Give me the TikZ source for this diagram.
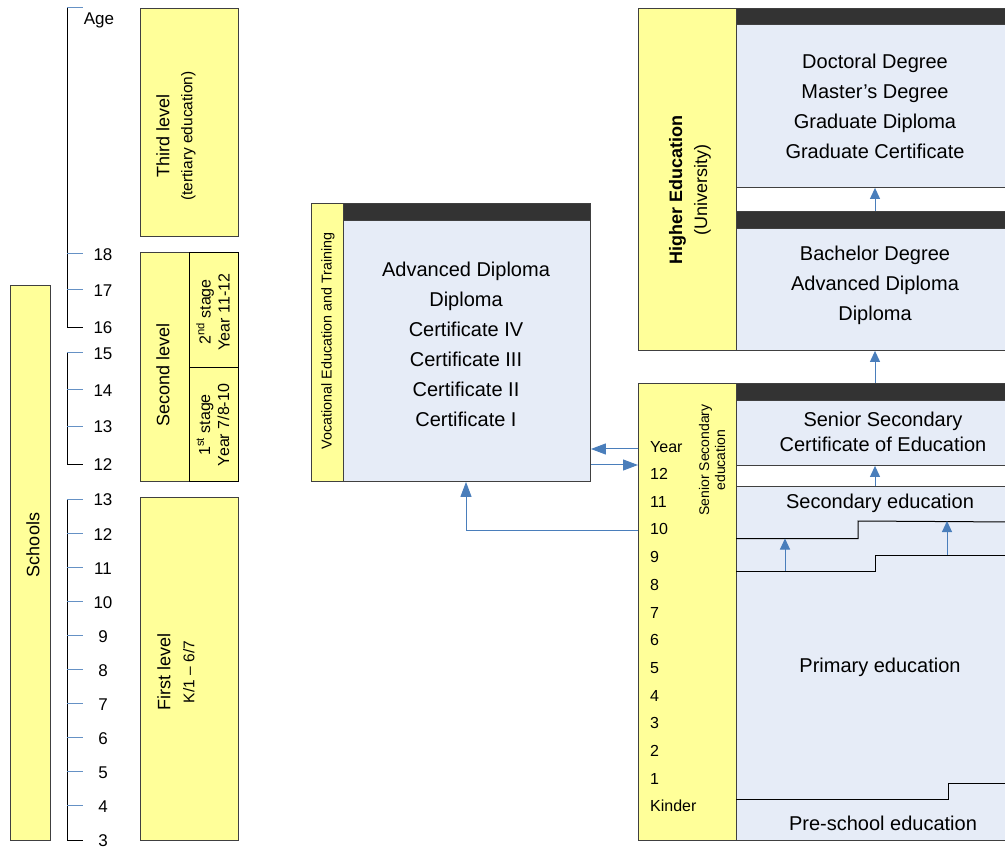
\documentclass[tikz,border=0pt]{standalone}
\usepackage{fontspec}
\setmainfont{Liberation Sans}
\usetikzlibrary{positioning}
\usetikzlibrary{calc}
\usetikzlibrary{arrows.meta}

\definecolor{levelyellow}{HTML}{FFFF99}
\definecolor{awardblue}{HTML}{E6ECF7}
\definecolor{headgrey}{HTML}{333333}
\definecolor{edgegrey}{HTML}{404040}
\definecolor{pathblue}{HTML}{4A7EBB}

\begin{document}
\begin{tikzpicture}[
  x=1pt,y=-1pt,
  level/.style={draw=edgegrey,fill=levelyellow,line width=0.9pt,inner sep=0pt,anchor=north west},
  award/.style={draw=edgegrey,fill=awardblue,line width=0.9pt,inner sep=0pt,anchor=north west},
  header/.style={draw=edgegrey,fill=headgrey,line width=0.9pt,inner sep=0pt,anchor=north west},
  levellbl/.style={rotate=90,align=center,font=\fontsize{18}{27}\selectfont},
  stagelbl/.style={rotate=90,align=center,font=\fontsize{16}{19}\selectfont},
  awardlbl/.style={align=center,font=\fontsize{20}{30}\selectfont},
  agelbl/.style={font=\fontsize{17}{20}\selectfont},
  yearlbl/.style={anchor=west,inner sep=0pt,font=\fontsize{16}{19}\selectfont},
  ruler/.style={draw=black,line width=0.9pt},
  agetick/.style={draw=pathblue!85,line width=1pt},
  stepline/.style={draw=black,line width=1pt},
  flow/.style={draw=pathblue,line width=1pt,-{Triangle[length=11pt,width=10pt]}},
  sideflow/.style={flow,-{Triangle[length=15pt,width=11pt]}}
  ]
  \useasboundingbox (0,0) rectangle (1005,850);
  \clip (0,0) rectangle (1005,850);

  % age ruler
  \draw[ruler] (67,8) -- (67,327) -- (83,327);
  \draw[ruler] (67,353) -- (67,464) -- (83,464);
  \draw[ruler] (67,499) -- (67,840) -- (83,840);
  \foreach \y in {8,254,290,353,390,427} \draw[agetick] (67,\y) -- (83,\y);
  \foreach \i in {0,...,9} \draw[agetick] (67,499+\i*34.1) -- (83,499+\i*34.1);
  \node (agetitle) [agelbl] at (99,20) {Age};
  \foreach \a/\y in {18/255,17/291,16/328}
    \node (upper\a) [agelbl] at (103,\y) {\a};
  \foreach \a/\y in {15/354,14/391,13/427,12/465}
    \node (middle\a) [agelbl] at (103,\y) {\a};
  \foreach \i in {0,...,10}
    \node (lower\i) [agelbl] at (103,500+\i*34.1) {\pgfmathparse{int(13-\i)}\pgfmathresult};

  % levels
  \node (schools) [level,minimum width=40pt,minimum height=555pt] at (10,285) {};
  \node (schoolslbl) [levellbl] at (33,545) {Schools};
  \node (third) [level,minimum width=98pt,minimum height=228pt] at (140,8) {};
  \node (thirdlbl) [levellbl] at (176,136) {Third level\\[-4pt]{\fontsize{15.5}{18}\selectfont(tertiary education)}};
  \node (second) [level,minimum width=98pt,minimum height=229pt] at (140,252) {};
  \node (secondlbl) [levellbl] at (163,375) {Second level};
  \node (stagetwo) [level,draw=black,minimum width=49pt,minimum height=115pt] at (189,252) {};
  \node (stagetwolbl) [stagelbl] at (213,312) {2\textsuperscript{nd} stage\\Year 11-12};
  \node (stageone) [level,draw=black,minimum width=49pt,minimum height=114pt] at (189,367) {};
  \node (stageonelbl) [stagelbl] at (213,425) {1\textsuperscript{st} stage\\Year 7/8-10};
  \node (first) [level,minimum width=98pt,minimum height=343pt] at (140,497) {};
  \node (firstlbl) [levellbl] at (176,672) {First level\\[-3pt]{\fontsize{15.5}{18}\selectfont K/1 -- 6/7}};

  % vocational education
  \node (vocational) [level,minimum width=32pt,minimum height=278pt] at (311,203) {};
  \node (vocationallbl) [rotate=90,font=\fontsize{14.3}{17}\selectfont] at (328,341) {Vocational Education and Training};
  \node (vochead) [header,minimum width=247pt,minimum height=17pt] at (343,203) {};
  \node (vocbody) [award,minimum width=247pt,minimum height=261pt] at (343,220) {};
  \node (vocawards) [awardlbl] at (466,344.5) {Advanced Diploma\\Diploma\\Certificate IV\\Certificate III\\Certificate II\\Certificate I};

  % higher education
  \node (higher) [level,minimum width=98pt,minimum height=342pt] at (638,8) {};
  \node (higherlbl) [rotate=90,align=center,font=\fontsize{18}{25}\selectfont] at (690,190) {\textbf{Higher Education}\\(University)};
  \node (pghead) [header,minimum width=276pt,minimum height=16pt] at (736,8) {};
  \node (pgbody) [award,minimum width=276pt,minimum height=163pt] at (736,24) {};
  \node (pgawards) [awardlbl] at (875,106.5) {Doctoral Degree\\Master's Degree\\Graduate Diploma\\Graduate Certificate};
  \node (ughead) [header,minimum width=276pt,minimum height=17pt] at (736,211) {};
  \node (ugbody) [award,minimum width=276pt,minimum height=122pt] at (736,228) {};
  \node (ugawards) [awardlbl] at (875,285.5) {Bachelor Degree\\Advanced Diploma\\Diploma};

  % schools
  \node (senior) [level,minimum width=98pt,minimum height=457pt] at (638,383) {};
  \node (seniorlbl) [rotate=90,align=center,font=\fontsize{14}{16}\selectfont] at (712,460) {Senior Secondary\\education};
  \node (yeartitle) [yearlbl] at (650,447) {Year};
  \foreach \a in {12,...,1}
    \node (year\a) [yearlbl] at (650,{474+(12-\a)*27.7}) {\a};
  \node (yearkinder) [yearlbl] at (650,806) {Kinder};
  \node (senhead) [header,minimum width=276pt,minimum height=17pt] at (736,383) {};
  \node (cert) [award,minimum width=276pt,minimum height=65pt] at (736,400) {};
  \node (certlbl) [awardlbl,font=\fontsize{20}{25}\selectfont] at (883,431.5) {Senior Secondary\\Certificate of Education};
  \node (school) [award,minimum width=276pt,minimum height=354pt] at (736,486) {};
  \node (secondarylbl) [awardlbl] at (880,503) {Secondary education};
  \node (primarylbl) [awardlbl] at (880,667) {Primary education};
  \node (preschoollbl) [awardlbl] at (883,823) {Pre-school education};

  % stage boundaries
  \coordinate (secstep) at (858,521);
  \coordinate (primstep) at (875,555);
  \coordinate (prestep) at (948,783);
  \draw[stepline] (school.west |- 0,538.5) -| (secstep) -- (1012,522);
  \draw[stepline] (school.west |- 0,571) -| (primstep) -- (1012,555);
  \draw[stepline] (school.west |- 0,799) -| (prestep) -- (1012,783);

  % pathways
  \draw[flow] (785,571) -- (785,538.5);
  \draw[flow] (947,555) -- (947,521);
  \draw[flow] (875,0 |- school.north) -- (875,0 |- cert.south);
  \draw[flow] (875,0 |- senhead.north) -- (875,0 |- ugbody.south);
  \draw[flow] (875,0 |- ughead.north) -- (875,0 |- pgbody.south);
  \draw[sideflow] (senior.west |- 0,449) -- (vocbody.east |- 0,449);
  \draw[sideflow] (vocbody.east |- 0,465) -- (senior.west |- 0,465);
  \draw[sideflow] (senior.west |- 0,530) -| (466,0 |- vocbody.south);
\end{tikzpicture}
\end{document}
